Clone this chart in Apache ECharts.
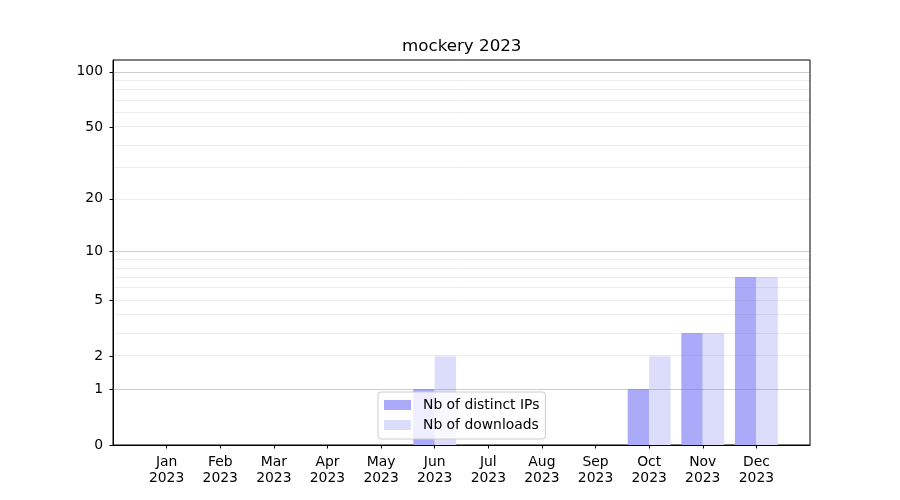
<!DOCTYPE html>
<html>
<head>
<meta charset="utf-8">
<script src="https://cdn.jsdelivr.net/npm/echarts@6/dist/echarts.min.js"></script>
<style>html,body{margin:0;padding:0;background:#fff;}#c{width:900px;height:500px;}</style>
</head>
<body>
<div id="c"></div>
<script>
const months = ['Jan','Feb','Mar','Apr','May','Jun','Jul','Aug','Sep','Oct','Nov','Dec'];
const year = '2023';
const distinctIPs = [0,0,0,0,0,1,0,0,0,1,3,7];
const downloads = [0,0,0,0,0,2,0,0,0,2,3,7];
const yTicks = [0,1,2,5,10,20,50,100];
const majorGrid = [1,10,100];
const minorGrid = [2,3,4,5,6,7,8,9,20,30,40,50,60,70,80,90];
const yTop = 116;

const tf = v => Math.log10(1 + v);
const font = 'DejaVu Sans';
const cats = [''].concat(months.map(m => m + '\n' + year)).concat(['']);
const pad = arr => [null].concat(arr.map(tf)).concat([null]);
const inner = (i) => i > 0 && i < cats.length - 1;

const gridLines = majorGrid.map(v => ({yAxis: tf(v), lineStyle: {color: 'rgba(128,128,128,0.4)', width: 1, type: 'solid'}}))
  .concat(minorGrid.map(v => ({yAxis: tf(v), lineStyle: {color: 'rgba(128,128,128,0.15)', width: 1, type: 'solid'}})));

const chart = echarts.init(document.getElementById('c'), null, {renderer: 'canvas'});
chart.setOption({
  animation: false,
  backgroundColor: '#ffffff',
  textStyle: {fontFamily: font},
  title: {
    text: 'mockery 2023', left: 402, top: 38, padding: 0,
    textStyle: {fontFamily: font, fontSize: 16.7, fontWeight: 'normal', color: '#000'}
  },
  grid: {left: 113, right: 90, top: 60, bottom: 55, show: true, borderColor: '#000', borderWidth: 1, backgroundColor: 'transparent'},
  legend: {
    orient: 'vertical', left: 378, top: 392,
    padding: [6, 6, 7, 6], itemGap: 6, itemWidth: 27, itemHeight: 10,
    icon: 'rect',
    backgroundColor: 'rgba(255,255,255,0.8)', borderColor: '#cccccc', borderWidth: 1, borderRadius: 3,
    textStyle: {fontFamily: font, fontSize: 13.9, color: '#000', padding: [0, 0, 0, 7]},
    data: ['Nb of distinct IPs', 'Nb of downloads']
  },
  xAxis: {
    type: 'category', data: cats, boundaryGap: false,
    axisLine: {show: true, lineStyle: {color: '#000', width: 1}},
    axisTick: {show: true, length: 3.5, interval: inner, lineStyle: {color: '#000'}},
    axisLabel: {interval: inner, margin: 9, fontFamily: font, fontSize: 13.9, lineHeight: 16, color: '#000'},
    splitLine: {show: false}
  },
  yAxis: {
    type: 'value', min: 0, max: tf(yTop),
    axisLine: {show: true, lineStyle: {color: '#000', width: 1}},
    axisTick: {show: true, length: 3.5, customValues: yTicks.map(tf), lineStyle: {color: '#000'}},
    axisLabel: {customValues: yTicks.map(tf), margin: 10, fontFamily: font, fontSize: 13.9, color: '#000',
      formatter: v => String(Math.round(Math.pow(10, v) - 1))},
    splitLine: {show: false}
  },
  series: [
    {name: 'Nb of distinct IPs', type: 'bar', data: pad(distinctIPs), barWidth: '40%', barGap: '0%',
      itemStyle: {color: '#aaaaf9'}},
    {name: 'Nb of downloads', type: 'bar', data: pad(downloads), barWidth: '40%', barGap: '0%',
      itemStyle: {color: '#dcdcfb'},
      markLine: {silent: true, symbol: 'none', label: {show: false}, z: 5, animation: false, data: gridLines}}
  ]
});
</script>
</body>
</html>
